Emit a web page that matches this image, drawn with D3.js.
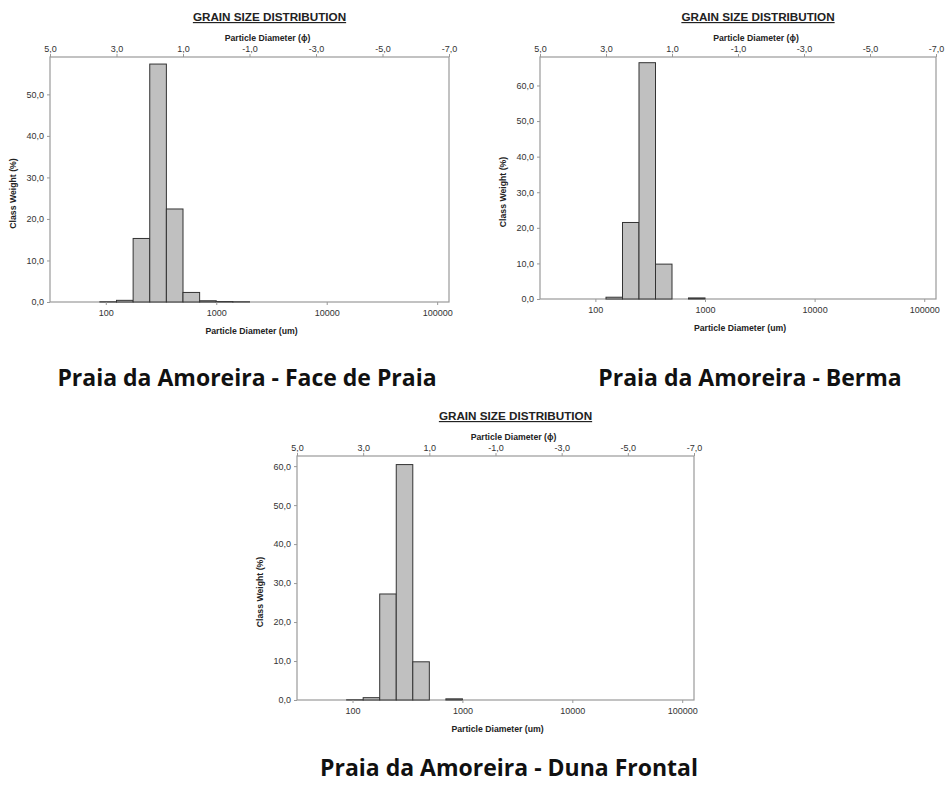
<!DOCTYPE html>
<html>
<head>
<meta charset="utf-8">
<script src="https://cdn.jsdelivr.net/npm/d3@7"></script>
<style>
	body { margin: 0; background: #fff; }
	svg { display: block; }
	.tick text { font-family: 'Liberation Sans', Arial, sans-serif; font-size: 9px; fill: #333; }
	.tick line { stroke: #999; }
	.domain { display: none; }
</style>
</head>
<body>
<div id="chart"></div>
<script>
// grain size classes (phi midpoints, each class 0.5 phi wide)
const phiClasses = [3.25, 2.75, 2.25, 1.75, 1.25, 0.75, 0.25, -0.25, -0.75];
// class weight (%) per sample
const faceValues = [0.05, 0.4, 15.3, 57.3, 22.4, 2.3, 0.3, 0.1, 0.05];
const bermaValues = [0, 0.5, 21.5, 66.4, 9.8, 0, 0.3, 0, 0];
const dunaValues = [0.05, 0.6, 27.2, 60.4, 9.8, 0, 0.3, 0, 0];
// axis ticks
const phiTicks = [5, 3, 1, -1, -3, -5, -7];
const umTicks = [100, 1000, 10000, 100000];
const captions = ['Praia da Amoreira - Face de Praia', 'Praia da Amoreira - Berma', 'Praia da Amoreira - Duna Frontal'];

const width = 946, height = 785;
const svg = d3.select('#chart').append('svg').attr('width', width).attr('height', height);

// "5,0" style labels with a plain hyphen for negatives
const commaFmt = d => d.toFixed(1).replace('.', ',');
const font = "'Liberation Sans', Arial, sans-serif";

//draw one grain size histogram
const drawGrainChart = (values, yMax, box) => {
	const w = box.w, h = box.h;
	const g = svg.append('g').attr('transform', `translate(${box.left}, ${box.top})`);

	//phi scale on top, microns (log) on bottom - same positions
	const x = d3.scaleLinear().domain([5, -7]).range([0, w]);
	const xUm = d3.scaleLog().domain([1000 * Math.pow(2, -5), 1000 * Math.pow(2, 7)]).range([0, w]);
	const y = d3.scaleLinear().domain([0, yMax]).range([h, 0]);

	//frame
	g.append('rect')
		.attr('width', w).attr('height', h)
		.attr('fill', 'none').attr('stroke', '#9a9a9a').attr('stroke-width', 1.2);

	//bars
	const data = phiClasses.map((p, i) => ({phi: p, value: values[i]})).filter(d => d.value > 0);
	g.append('g')
		.selectAll('rect')
		.data(data)
		.enter().append('rect')
		.attr('x', d => x(d.phi + 0.25))
		.attr('width', d => x(d.phi - 0.25) - x(d.phi + 0.25))
		.attr('y', d => y(d.value))
		.attr('height', d => h - y(d.value))
		.attr('fill', '#c0c0c0')
		.attr('stroke', '#333')
		.attr('stroke-width', 1);

	//top phi axis
	g.append('g')
		.call(d3.axisTop(x).tickValues(phiTicks).tickFormat(commaFmt).tickSize(3).tickPadding(2));

	//bottom micron axis
	g.append('g')
		.attr('transform', `translate(0, ${h})`)
		.call(d3.axisBottom(xUm).tickValues(umTicks).tickFormat(d3.format('d')).tickSize(3).tickPadding(5));

	//y axis
	g.append('g')
		.call(d3.axisLeft(y).tickValues(d3.range(0, yMax, 10)).tickFormat(commaFmt).tickSize(3).tickPadding(3));

	//titles
	g.append('text')
		.attr('x', w / 2 + 20).attr('y', -36)
		.attr('text-anchor', 'middle')
		.attr('font-family', font).attr('font-size', 11.7).attr('font-weight', 'bold')
		.attr('fill', '#222')
		.style('text-decoration', 'underline')
		.text('GRAIN SIZE DISTRIBUTION');

	g.append('text')
		.attr('x', w / 2 + 18).attr('y', -16)
		.attr('text-anchor', 'middle')
		.attr('font-family', font).attr('font-size', 8.7).attr('font-weight', 'bold')
		.attr('fill', '#222')
		.text('Particle Diameter (\u03d5)');

	g.append('text')
		.attr('x', w / 2 + 2).attr('y', h + 32)
		.attr('text-anchor', 'middle')
		.attr('font-family', font).attr('font-size', 8.7).attr('font-weight', 'bold')
		.attr('fill', '#222')
		.text('Particle Diameter (um)');

	g.append('text')
		.attr('transform', `translate(-34, ${h / 2 + 14}) rotate(-90)`)
		.attr('text-anchor', 'middle')
		.attr('font-family', font).attr('font-size', 8.7).attr('font-weight', 'bold')
		.attr('fill', '#222')
		.text('Class Weight (%)');
}

drawGrainChart(faceValues, 59, {left: 50, top: 57, w: 399, h: 245});
drawGrainChart(bermaValues, 68, {left: 540, top: 57, w: 396, h: 242});
drawGrainChart(dunaValues, 62.6, {left: 297, top: 456, w: 397, h: 244});

//captions under each chart
const capPos = [[247, 386], [750, 386], [509, 776]];
svg.selectAll('.caption')
	.data(captions)
	.enter().append('text')
	.attr('class', 'caption')
	.attr('x', (d, i) => capPos[i][0])
	.attr('y', (d, i) => capPos[i][1])
	.attr('text-anchor', 'middle')
	.attr('font-family', "'Open Sans', 'Noto Sans', sans-serif")
	.attr('font-size', 23)
	.attr('font-weight', 'bold')
	.attr('fill', '#111')
	.text(d => d);
</script>
</body>
</html>
